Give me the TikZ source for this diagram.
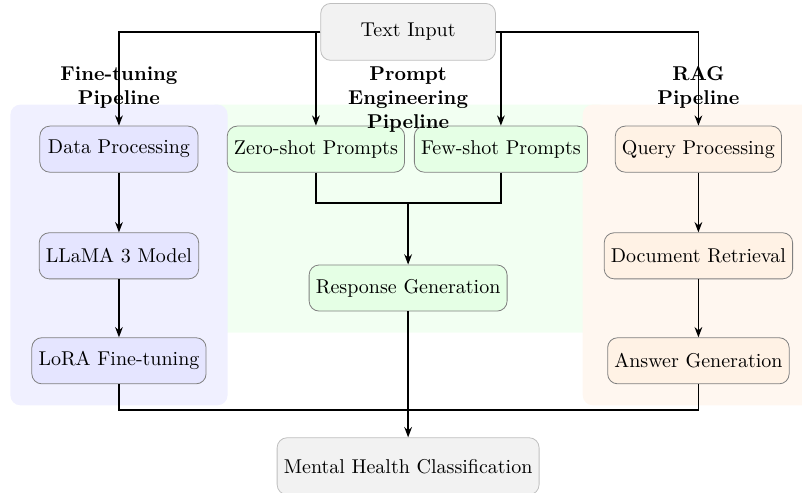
\documentclass[tikz,border=0pt]{standalone}
\usetikzlibrary{arrows.meta,positioning,fit,backgrounds}
\tikzset{
  stage/.style={draw=gray, rounded corners=5pt, align=center,
    minimum width=2.78cm, minimum height=0.81cm},
  ioblock/.style={stage, draw=gray!50, fill=gray!10, minimum width=3.07cm, minimum height=1cm},
  ftstage/.style={stage, fill=blue!10},
  pestage/.style={stage, fill=green!10},
  ragstage/.style={stage, fill=orange!10},
  lane/.style={rounded corners=5pt, inner sep=0.37cm},
  lanetitle/.style={font=\bfseries, text width=2.2cm, align=center, anchor=north, inner sep=0pt},
  flow/.style={thick, -{Stealth[length=1.8mm]}},
  link/.style={thick}
}

\begin{document}
\begin{tikzpicture}
  \useasboundingbox (0,0) rectangle (14.09,-8.645);

  % input and output
  \node[ioblock] (input) at (7.17,-0.56) {Text Input};
  \node[ioblock] (mental) at (7.17,-8.19) {Mental Health Classification};

  % fine-tuning column
  \node[ftstage] (data) at (2.09,-2.62) {Data Processing};
  \node[ftstage, below=1.05cm of data] (llama) {LLaMA 3 Model};
  \node[ftstage, below=1.02cm of llama] (lora) {LoRA Fine-tuning};

  % prompting column
  \node[pestage] (zero) at (5.55,-2.62) {Zero-shot Prompts};
  \node[pestage] (few) at (8.80,-2.62) {Few-shot Prompts};
  \node[pestage] (resp) at (7.17,-5.06) {Response Generation};

  % retrieval column
  \node[ragstage] (query) at (12.27,-2.62) {Query Processing};
  \node[ragstage, below=1.05cm of query] (docret) {Document Retrieval};
  \node[ragstage, below=1.02cm of docret] (answer) {Answer Generation};

  % lanes behind the stages
  \begin{scope}[on background layer]
    \node[lane, fill=green!5, fit=(zero)(few)(resp)] (pelane) {};
    \node[lane, fill=blue!6, fit=(data)(llama)(lora)] (ftlane) {};
    \node[lane, fill=orange!6, fit=(query)(docret)(answer)] (raglane) {};
  \end{scope}

  \node[lanetitle] (fttitle) at (2.09,-1.16) {Fine-tuning Pipeline};
  \node[lanetitle] (petitle) at (7.17,-1.16) {Prompt Engineering Pipeline};
  \node[lanetitle] (ragtitle) at (12.27,-1.16) {RAG Pipeline};

  % fan out from the input
  \draw[flow] (input.west) -| (data.north);
  \draw[flow] (input.west) -| (zero.north);
  \draw[flow] (input.east) -| (few.north);
  \draw[flow] (input.east) -| (query.north);

  \draw[flow] (data) -- (llama);
  \draw[flow] (llama) -- (lora);
  \draw[flow] (query) -- (docret);
  \draw[flow] (docret) -- (answer);

  \coordinate (merge) at (7.17,-3.57);
  \draw[link] (zero.south) |- (merge);
  \draw[link] (few.south) |- (merge);
  \draw[flow] (merge) -- (resp.north);

  % collect the three results
  \coordinate (collect) at (7.17,-7.20);
  \draw[link] (lora.south) |- (collect);
  \draw[link] (answer.south) |- (collect);
  \draw[flow] (resp.south) -- (mental.north);
\end{tikzpicture}
\end{document}
